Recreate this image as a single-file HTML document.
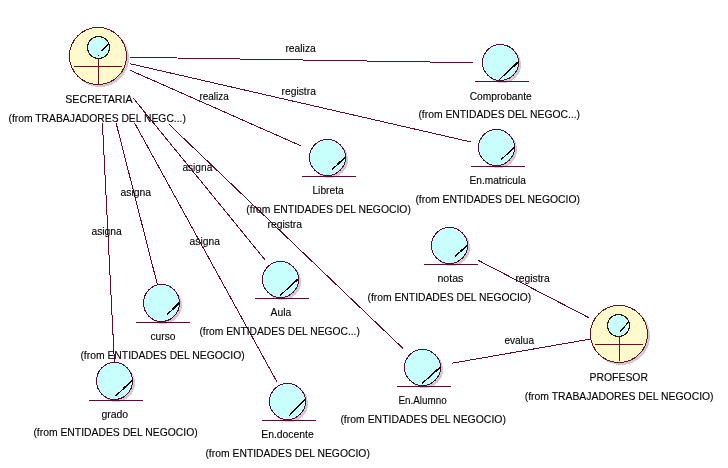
<!DOCTYPE html>
<html><head><meta charset="utf-8"><style>
html,body{margin:0;padding:0;background:#fff;}
body{width:728px;height:468px;overflow:hidden;}
svg{display:block;}
circle,ellipse,line{shape-rendering:crispEdges;}
text{font-family:"Liberation Sans",sans-serif;font-size:11px;fill:#000;stroke:#000;stroke-width:0.12px;}
svg{will-change:transform;}
</style></head><body>
<svg width="728" height="468" viewBox="0 0 728 468">
<ellipse cx="502.5" cy="64.5" rx="18.5" ry="18.5" fill="#d3c9ce"/>
<ellipse cx="498.5" cy="149.5" rx="18.5" ry="18.5" fill="#d3c9ce"/>
<ellipse cx="329.5" cy="159.5" rx="18.5" ry="18.5" fill="#d3c9ce"/>
<ellipse cx="451.5" cy="247.5" rx="18.5" ry="18.5" fill="#d3c9ce"/>
<ellipse cx="282.5" cy="281.5" rx="18.5" ry="18.5" fill="#d3c9ce"/>
<ellipse cx="163.5" cy="305" rx="18.5" ry="19" fill="#d3c9ce"/>
<ellipse cx="116.5" cy="383" rx="18.5" ry="19" fill="#d3c9ce"/>
<ellipse cx="289.5" cy="403.5" rx="18.5" ry="18.5" fill="#d3c9ce"/>
<ellipse cx="424.5" cy="369.5" rx="18.5" ry="18.5" fill="#d3c9ce"/>
<ellipse cx="100" cy="58" rx="29" ry="29" fill="#d3c9ce"/>
<ellipse cx="621" cy="336" rx="29" ry="29" fill="#d3c9ce"/>
<line x1="129.8" y1="57.25" x2="473.5" y2="62.7" stroke="#600a30" stroke-width="1"/>
<line x1="130.2" y1="63.76" x2="470.8" y2="141.93" stroke="#600a30" stroke-width="1"/>
<line x1="130.2" y1="70.3" x2="300.8" y2="145.8" stroke="#600a30" stroke-width="1"/>
<line x1="133.3" y1="98.2" x2="264.7" y2="259.5" stroke="#600a30" stroke-width="1"/>
<line x1="169" y1="124.3" x2="402.8" y2="348.3" stroke="#600a30" stroke-width="1"/>
<line x1="134.6" y1="123" x2="276.8" y2="381.7" stroke="#600a30" stroke-width="1"/>
<line x1="116.1" y1="123" x2="157.5" y2="285.1" stroke="#600a30" stroke-width="1"/>
<line x1="102.4" y1="123" x2="114.4" y2="362" stroke="#600a30" stroke-width="1"/>
<line x1="478.5" y1="260.5" x2="588.9" y2="317.7" stroke="#600a30" stroke-width="1"/>
<line x1="451.5" y1="363.3" x2="589.7" y2="339.2" stroke="#600a30" stroke-width="1"/>
<ellipse cx="500.5" cy="62.5" rx="18" ry="18" fill="#c8fefb" stroke="#580c30" stroke-width="1"/>
<line x1="475" y1="81.5" x2="529" y2="81.5" stroke="#580c30" stroke-width="1"/>
<line x1="499.4" y1="79.5" x2="518.6" y2="61.6" stroke="#000" stroke-width="1.2"/>
<line x1="508.04" y1="71.44" x2="518.3" y2="61.9" stroke="#000" stroke-width="1.6"/>
<ellipse cx="496.5" cy="147.5" rx="18" ry="18" fill="#c8fefb" stroke="#580c30" stroke-width="1"/>
<line x1="471" y1="166.5" x2="525" y2="166.5" stroke="#580c30" stroke-width="1"/>
<line x1="501.1" y1="159.6" x2="514.6" y2="147.3" stroke="#000" stroke-width="1.2"/>
<line x1="507.18" y1="154.06" x2="514.3" y2="147.6" stroke="#000" stroke-width="1.6"/>
<ellipse cx="327.5" cy="157.5" rx="18" ry="18" fill="#c8fefb" stroke="#580c30" stroke-width="1"/>
<line x1="302" y1="176.5" x2="356" y2="176.5" stroke="#580c30" stroke-width="1"/>
<line x1="332" y1="169.7" x2="345.3" y2="157.1" stroke="#000" stroke-width="1.2"/>
<line x1="337.99" y1="164.03" x2="345" y2="157.4" stroke="#000" stroke-width="1.6"/>
<ellipse cx="449.5" cy="245.5" rx="18" ry="18" fill="#c8fefb" stroke="#580c30" stroke-width="1"/>
<line x1="424" y1="264.5" x2="478" y2="264.5" stroke="#580c30" stroke-width="1"/>
<line x1="454.9" y1="256.5" x2="467.3" y2="245.4" stroke="#000" stroke-width="1.2"/>
<line x1="460.48" y1="251.5" x2="467" y2="245.7" stroke="#000" stroke-width="1.6"/>
<ellipse cx="280.5" cy="279.5" rx="18" ry="18" fill="#c8fefb" stroke="#580c30" stroke-width="1"/>
<line x1="255" y1="298.5" x2="309" y2="298.5" stroke="#580c30" stroke-width="1"/>
<line x1="280.1" y1="295.5" x2="298.3" y2="278.8" stroke="#000" stroke-width="1.2"/>
<line x1="288.29" y1="287.99" x2="298" y2="279.1" stroke="#000" stroke-width="1.6"/>
<ellipse cx="161.5" cy="303" rx="18" ry="18.5" fill="#c8fefb" stroke="#580c30" stroke-width="1"/>
<line x1="136" y1="322.5" x2="190" y2="322.5" stroke="#580c30" stroke-width="1"/>
<line x1="167.1" y1="314.7" x2="179.4" y2="302.7" stroke="#000" stroke-width="1.2"/>
<line x1="172.63" y1="309.3" x2="179.1" y2="303" stroke="#000" stroke-width="1.6"/>
<ellipse cx="114.5" cy="381" rx="18" ry="18.5" fill="#c8fefb" stroke="#580c30" stroke-width="1"/>
<line x1="89" y1="400.5" x2="143" y2="400.5" stroke="#580c30" stroke-width="1"/>
<line x1="115.4" y1="396.3" x2="132.3" y2="380.1" stroke="#000" stroke-width="1.2"/>
<line x1="123.01" y1="389.01" x2="132" y2="380.4" stroke="#000" stroke-width="1.6"/>
<ellipse cx="287.5" cy="401.5" rx="18" ry="18" fill="#c8fefb" stroke="#580c30" stroke-width="1"/>
<line x1="262" y1="420.5" x2="316" y2="420.5" stroke="#580c30" stroke-width="1"/>
<line x1="289.2" y1="415.7" x2="305" y2="399.6" stroke="#000" stroke-width="1.2"/>
<line x1="296.31" y1="408.45" x2="304.7" y2="399.9" stroke="#000" stroke-width="1.6"/>
<ellipse cx="422.5" cy="367.5" rx="18" ry="18" fill="#c8fefb" stroke="#580c30" stroke-width="1"/>
<line x1="397" y1="386.5" x2="451" y2="386.5" stroke="#580c30" stroke-width="1"/>
<line x1="422.1" y1="383.5" x2="440.3" y2="367.1" stroke="#000" stroke-width="1.2"/>
<line x1="430.29" y1="376.12" x2="440" y2="367.4" stroke="#000" stroke-width="1.6"/>
<ellipse cx="98" cy="56" rx="28.5" ry="28.5" fill="#fffacb" stroke="#641420" stroke-width="1"/>
<ellipse cx="98.5" cy="47.5" rx="11" ry="11" fill="#c8fefb" stroke="#3a1010" stroke-width="1"/>
<rect x="98" y="59" width="1" height="25" fill="#641420"/>
<rect x="74" y="66" width="48" height="1" fill="#641420"/>
<line x1="101.3" y1="51.2" x2="108.7" y2="43.5" stroke="#000" stroke-width="1.2"/>
<rect x="98" y="55" width="1" height="1" fill="#000"/>
<ellipse cx="619" cy="334" rx="28.5" ry="28.5" fill="#fffacb" stroke="#641420" stroke-width="1"/>
<ellipse cx="618.5" cy="325.5" rx="11" ry="11" fill="#c8fefb" stroke="#3a1010" stroke-width="1"/>
<rect x="619" y="337" width="1" height="24" fill="#641420"/>
<rect x="595" y="344" width="48" height="1" fill="#641420"/>
<line x1="620.3" y1="331.5" x2="629" y2="321.5" stroke="#000" stroke-width="1.2"/>
<text x="65.2" y="103" textLength="67.4" lengthAdjust="spacingAndGlyphs">SECRETARIA</text>
<text x="8.5" y="122" textLength="177.4" lengthAdjust="spacingAndGlyphs">(from TRABAJADORES DEL NEGC...)</text>
<text x="469.7" y="100" textLength="62.1" lengthAdjust="spacingAndGlyphs">Comprobante</text>
<text x="418.4" y="118" textLength="161.6" lengthAdjust="spacingAndGlyphs">(from ENTIDADES DEL NEGOC...)</text>
<text x="469.5" y="184" textLength="56.4" lengthAdjust="spacingAndGlyphs">En.matricula</text>
<text x="415.4" y="203" textLength="164.6" lengthAdjust="spacingAndGlyphs">(from ENTIDADES DEL NEGOCIO)</text>
<text x="312.4" y="194" textLength="31.4" lengthAdjust="spacingAndGlyphs">Libreta</text>
<text x="246.3" y="213" textLength="164.6" lengthAdjust="spacingAndGlyphs">(from ENTIDADES DEL NEGOCIO)</text>
<text x="437.4" y="282" textLength="26" lengthAdjust="spacingAndGlyphs">notas</text>
<text x="367.5" y="301" textLength="163.8" lengthAdjust="spacingAndGlyphs">(from ENTIDADES DEL NEGOCIO)</text>
<text x="270.5" y="316" textLength="20.7" lengthAdjust="spacingAndGlyphs">Aula</text>
<text x="199.4" y="335" textLength="160.5" lengthAdjust="spacingAndGlyphs">(from ENTIDADES DEL NEGOC...)</text>
<text x="150.5" y="340" textLength="25" lengthAdjust="spacingAndGlyphs">curso</text>
<text x="80.4" y="359" textLength="164.3" lengthAdjust="spacingAndGlyphs">(from ENTIDADES DEL NEGOCIO)</text>
<text x="101.4" y="418" textLength="26.7" lengthAdjust="spacingAndGlyphs">grado</text>
<text x="33.4" y="436" textLength="164.3" lengthAdjust="spacingAndGlyphs">(from ENTIDADES DEL NEGOCIO)</text>
<text x="261.3" y="438" textLength="52.4" lengthAdjust="spacingAndGlyphs">En.docente</text>
<text x="205.4" y="457" textLength="164.5" lengthAdjust="spacingAndGlyphs">(from ENTIDADES DEL NEGOCIO)</text>
<text x="398.5" y="404" textLength="48.1" lengthAdjust="spacingAndGlyphs">En.Alumno</text>
<text x="340.4" y="423" textLength="165.5" lengthAdjust="spacingAndGlyphs">(from ENTIDADES DEL NEGOCIO)</text>
<text x="589.5" y="381" textLength="58.5" lengthAdjust="spacingAndGlyphs">PROFESOR</text>
<text x="524.7" y="400" textLength="188.9" lengthAdjust="spacingAndGlyphs">(from TRABAJADORES DEL NEGOCIO)</text>
<text x="285.4" y="52" textLength="30.4" lengthAdjust="spacingAndGlyphs">realiza</text>
<text x="281.5" y="95" textLength="34.4" lengthAdjust="spacingAndGlyphs">registra</text>
<text x="199.4" y="100" textLength="29.4" lengthAdjust="spacingAndGlyphs">realiza</text>
<text x="182.4" y="171" textLength="29.9" lengthAdjust="spacingAndGlyphs">asigna</text>
<text x="120.5" y="196" textLength="30.6" lengthAdjust="spacingAndGlyphs">asigna</text>
<text x="91.4" y="235" textLength="30.4" lengthAdjust="spacingAndGlyphs">asigna</text>
<text x="189.5" y="245" textLength="30.4" lengthAdjust="spacingAndGlyphs">asigna</text>
<text x="267.5" y="228" textLength="34.6" lengthAdjust="spacingAndGlyphs">registra</text>
<text x="515.4" y="282" textLength="34.4" lengthAdjust="spacingAndGlyphs">registra</text>
<text x="504.4" y="344" textLength="29.6" lengthAdjust="spacingAndGlyphs">evalua</text>
</svg>
</body></html>
